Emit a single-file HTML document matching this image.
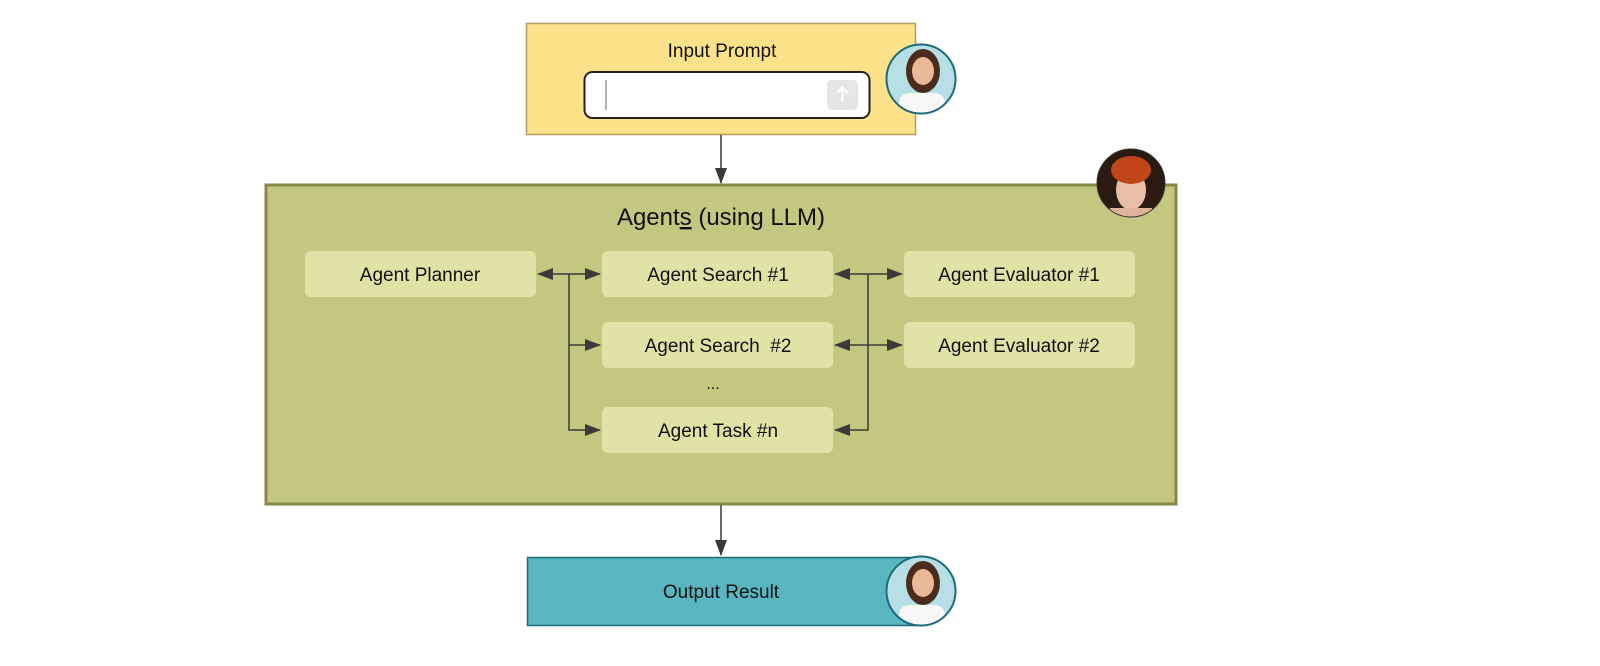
<!DOCTYPE html>
<html><head><meta charset="utf-8"><style>
html,body{margin:0;padding:0;background:#fff;}
svg{display:block;font-family:"Liberation Sans",sans-serif;}
</style></head><body>
<svg width="1600" height="666" viewBox="0 0 1600 666" xmlns="http://www.w3.org/2000/svg">
<defs>
<marker id="ah2" markerWidth="16" markerHeight="12" refX="15" refY="6" orient="auto-start-reverse" markerUnits="userSpaceOnUse">
<path d="M0,0 L16,6 L0,12 z" fill="#3a3a3a"/></marker>
<clipPath id="c1"><circle cx="921" cy="79" r="34"/></clipPath>
<clipPath id="c2"><circle cx="1131" cy="183" r="34"/></clipPath>
<clipPath id="c3"><circle cx="921" cy="591" r="34"/></clipPath>
<g id="woman">
<rect x="-36" y="-36" width="72" height="72" fill="#b7dfe6"/>
<ellipse cx="2" cy="-8" rx="17" ry="22" fill="#4a2c1c"/>
<ellipse cx="2" cy="-8" rx="11" ry="14" fill="#e9b894"/>
<rect x="-22" y="14" width="46" height="24" rx="10" fill="#f7f7f7"/>
</g>
</defs>

<rect x="526.5" y="23.5" width="389" height="111" fill="#fee28a" stroke="#b59c62" stroke-width="1.5"/>
<text x="722" y="57" font-size="19" text-anchor="middle" fill="#111">Input Prompt</text>
<rect x="584.5" y="72" width="285" height="46" rx="8" fill="#fff" stroke="#222" stroke-width="2"/>
<line x1="606" y1="80" x2="606" y2="110" stroke="#999" stroke-width="1.5"/>
<rect x="827" y="80" width="31" height="30" rx="5" fill="#e5e5e5"/>
<path d="M842.5,102 V88 M837,93 L842.5,87.5 L848,93" stroke="#fff" stroke-width="2" fill="none"/>

<g clip-path="url(#c1)"><use href="#woman" x="921" y="79"/></g>
<circle cx="921" cy="79" r="34.5" fill="none" stroke="#1d6b7b" stroke-width="2"/>

<line x1="721" y1="135" x2="721" y2="183" stroke="#3a3a3a" stroke-width="1.5" marker-end="url(#ah2)"/>

<rect x="266" y="185" width="910" height="319" fill="#c4c77f" stroke="#858a48" stroke-width="3"/>
<text x="721" y="225" font-size="24" text-anchor="middle" fill="#111">Agent<tspan text-decoration="underline">s</tspan> (using LLM)</text>

<g clip-path="url(#c2)">
<rect x="1096" y="148" width="72" height="72" fill="#2a1a12"/>
<ellipse cx="1131" cy="190" rx="15" ry="20" fill="#e8bfa6"/>
<ellipse cx="1131" cy="170" rx="20" ry="14" fill="#c0461a"/>
<rect x="1110" y="208" width="42" height="20" fill="#e0b49a"/>
</g>
<circle cx="1131" cy="183" r="34" fill="none" stroke="#333" stroke-width="1"/>

<g fill="#e0e2a6">
<rect x="305" y="251" width="231" height="46" rx="6"/>
<rect x="602" y="251" width="231" height="46" rx="6"/>
<rect x="602" y="322" width="231" height="46" rx="6"/>
<rect x="602" y="407" width="231" height="46" rx="6"/>
<rect x="904" y="251" width="231" height="46" rx="6"/>
<rect x="904" y="322" width="231" height="46" rx="6"/>
</g>
<g font-size="19" text-anchor="middle" fill="#111">
<text x="420" y="281">Agent Planner</text>
<text x="718" y="281">Agent Search #1</text>
<text x="718" y="352" xml:space="preserve">Agent Search  #2</text>
<text x="718" y="437">Agent Task #n</text>
<text x="1019" y="281">Agent Evaluator #1</text>
<text x="1019" y="352">Agent Evaluator #2</text>
<text x="713" y="389" font-size="16">...</text>
</g>

<g stroke="#3a3a3a" stroke-width="1.5" fill="none">
<line x1="538" y1="274" x2="600" y2="274" marker-start="url(#ah2)" marker-end="url(#ah2)"/>
<polyline points="569,274 569,430 600,430" marker-end="url(#ah2)"/>
<line x1="569" y1="345" x2="600" y2="345" marker-end="url(#ah2)"/>
<line x1="835" y1="274" x2="902" y2="274" marker-start="url(#ah2)" marker-end="url(#ah2)"/>
<line x1="835" y1="345" x2="902" y2="345" marker-start="url(#ah2)" marker-end="url(#ah2)"/>
<polyline points="868,274 868,430 835,430" marker-end="url(#ah2)"/>
</g>

<line x1="721" y1="505" x2="721" y2="555" stroke="#3a3a3a" stroke-width="1.5" marker-end="url(#ah2)"/>

<rect x="527.5" y="557.5" width="389" height="68" fill="#59b6c0" stroke="#1d6b7b" stroke-width="1.5"/>
<text x="721" y="598" font-size="19" text-anchor="middle" fill="#111">Output Result</text>
<g clip-path="url(#c3)"><use href="#woman" x="921" y="591"/></g>
<circle cx="921" cy="591" r="34.5" fill="none" stroke="#1d6b7b" stroke-width="2"/>
</svg>
</body></html>
